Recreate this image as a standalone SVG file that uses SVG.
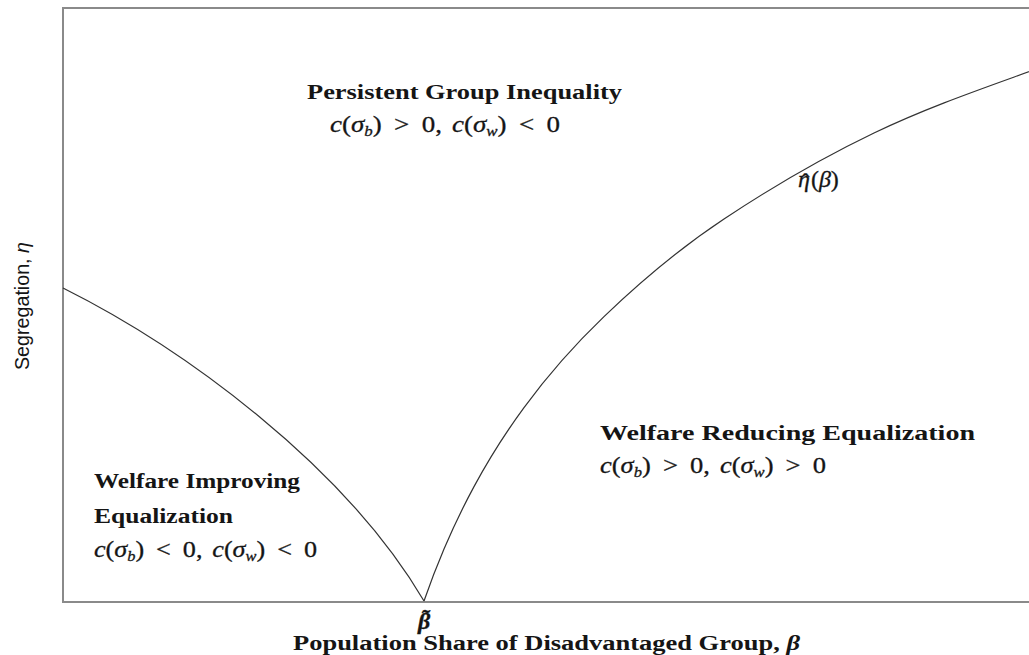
<svg xmlns="http://www.w3.org/2000/svg" width="1029" height="655" viewBox="0 0 1029 655">
<style>
.lbl{font-family:"Liberation Serif","DejaVu Serif",serif;font-weight:bold;font-size:20px;fill:#151515}
.math{font-family:"Liberation Serif","DejaVu Serif",serif;font-size:24px;fill:#151515;stroke:#151515;stroke-width:0.3}
.it{font-style:italic}
.sub{font-size:15px;font-style:italic}
.curve{fill:none;stroke:#333;stroke-width:1.2}
.frame{fill:none;stroke:#8a8a8a;stroke-width:2}
</style>
<rect width="1029" height="655" fill="#ffffff"/>
<g id="axes">
<rect class="frame" x="63" y="8" width="1000" height="594"/>
</g>
<g id="connectors">
<path id="left-curve" class="curve" d="M63,288 C183,348 344,465 424,601"/>
<path id="eta-hat-curve" class="curve" d="M424,601 C430.67,581.82 437.33,564.74 444,549.05 C454,525.51 464,505.1 474,486.61 C490.67,455.79 507.33,430.26 524,407.55 C550.67,371.21 577.33,342.14 604,316.57 C644,278.21 684,245.5 724,219 C774,185.8 824,157 874,133 C930.67,105.8 987.33,86.9 1044,66.24"/>
</g>
<g id="region-persistent">
<text class="lbl" x="307" y="99" textLength="315" lengthAdjust="spacingAndGlyphs">Persistent Group Inequality</text>
<text class="math" x="330" y="132" textLength="230" lengthAdjust="spacingAndGlyphs"><tspan class="it">c</tspan>(<tspan class="it">σ</tspan><tspan class="sub" dy="4">b</tspan><tspan dy="-4">)</tspan><tspan dx="11">&gt;</tspan><tspan dx="11">0,</tspan><tspan dx="9" class="it">c</tspan>(<tspan class="it">σ</tspan><tspan class="sub" dy="4">w</tspan><tspan dy="-4">)</tspan><tspan dx="11">&lt;</tspan><tspan dx="11">0</tspan></text>
</g>
<g id="curve-label">
<text class="math" x="798" y="187" font-size="21"><tspan class="it">η</tspan><tspan dx="-8.5" dy="3">ˆ</tspan><tspan dx="1.5" dy="-3">(</tspan><tspan class="it">β</tspan>)</text>
</g>
<g id="region-reducing">
<text class="lbl" x="600" y="440" textLength="375" lengthAdjust="spacingAndGlyphs">Welfare Reducing Equalization</text>
<text class="math" x="600" y="473" textLength="226" lengthAdjust="spacingAndGlyphs"><tspan class="it">c</tspan>(<tspan class="it">σ</tspan><tspan class="sub" dy="4">b</tspan><tspan dy="-4">)</tspan><tspan dx="11">&gt;</tspan><tspan dx="11">0,</tspan><tspan dx="9" class="it">c</tspan>(<tspan class="it">σ</tspan><tspan class="sub" dy="4">w</tspan><tspan dy="-4">)</tspan><tspan dx="11">&gt;</tspan><tspan dx="11">0</tspan></text>
</g>
<g id="region-improving">
<text class="lbl" x="94" y="488" textLength="206" lengthAdjust="spacingAndGlyphs">Welfare Improving</text>
<text class="lbl" x="94" y="523" textLength="139" lengthAdjust="spacingAndGlyphs">Equalization</text>
<text class="math" x="94" y="557" textLength="223" lengthAdjust="spacingAndGlyphs"><tspan class="it">c</tspan>(<tspan class="it">σ</tspan><tspan class="sub" dy="4">b</tspan><tspan dy="-4">)</tspan><tspan dx="11">&lt;</tspan><tspan dx="11">0,</tspan><tspan dx="9" class="it">c</tspan>(<tspan class="it">σ</tspan><tspan class="sub" dy="4">w</tspan><tspan dy="-4">)</tspan><tspan dx="11">&lt;</tspan><tspan dx="11">0</tspan></text>
</g>
<g id="x-axis-label">
<text class="math" x="418" y="629" font-size="22" font-style="italic" font-weight="bold">β<tspan dx="-9.5" dy="-4">˜</tspan></text>
<text class="lbl" x="293" y="650" textLength="507" lengthAdjust="spacingAndGlyphs">Population Share of Disadvantaged Group, <tspan font-style="italic">β</tspan></text>
</g>
<g id="y-axis-label">
<text transform="translate(29,370) rotate(-90)" x="0" y="0" font-family="'Liberation Sans',Arial,sans-serif" font-size="21" fill="#151515" textLength="128" lengthAdjust="spacingAndGlyphs">Segregation, <tspan font-style="italic">η</tspan></text>
</g>
</svg>
